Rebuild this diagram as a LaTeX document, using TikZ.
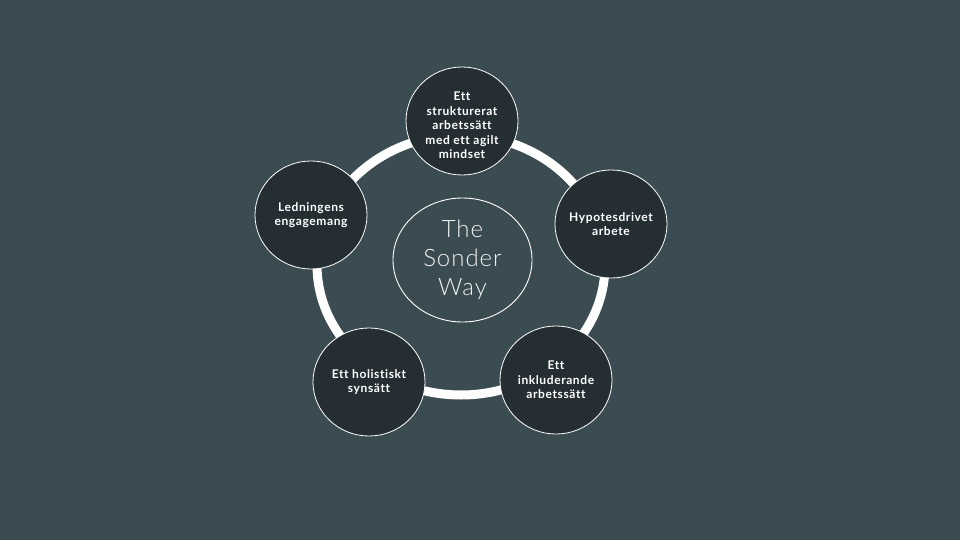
\documentclass[tikz,border=0pt]{standalone}
\usepackage{fontspec}
\usetikzlibrary{shapes.geometric}
\setmainfont{Lato}
\newfontfamily\lightfont[LetterSpace=4,Ligatures=NoCommon]{Lato Light}
\newfontfamily\boldwide[LetterSpace=5,Ligatures=NoCommon]{Lato Bold}
\definecolor{bgcol}{RGB}{58,75,81}
\definecolor{nodecol}{RGB}{37,47,51}
\begin{document}
\begin{tikzpicture}[x=1pt,y=-1pt,
  stage/.style={ellipse,draw=white,line width=0.8pt,fill=nodecol,minimum width=112pt,minimum height=108pt,
    inner xsep=-20pt,inner ysep=0pt,
    text=white,align=center,font=\boldwide\fontsize{12}{14.5}\selectfont},
  stagetext/.style={text=white,align=center,inner sep=0pt,font=\boldwide\fontsize{12}{14.5}\selectfont},
  hub/.style={ellipse,draw=white,line width=0.9pt,minimum width=139pt,minimum height=124pt,inner sep=0pt,
    text=white!92!bgcol,align=center,font=\lightfont\fontsize{24}{29}\selectfont},
  ringline/.style={draw=white,line width=9pt}]
\fill[bgcol] (0,0) rectangle (960,540);
\useasboundingbox (0,0) rectangle (960,540);
\coordinate (ringc) at (461,265);
\draw[ringline] (ringc) ellipse[x radius=144,y radius=130];
\node[hub] (center) at (462.5,260) {The\\Sonder\\Way};
\node[stage] (top) at (462,121) {};
\node[stagetext] (toptext) at (462,125.5) {Ett\\strukturerat\\arbetssätt\\med ett agilt\\mindset};
\node[stage] (right) at (611,224) {Hypotesdrivet\\arbete};
\node[stage] (bright) at (556,380) {Ett\\inkluderande\\arbetssätt};
\node[stage] (bleft) at (369,382) {Ett holistiskt\\synsätt};
\node[stage] (left) at (311,215) {Ledningens\\engagemang};
\end{tikzpicture}
\end{document}
